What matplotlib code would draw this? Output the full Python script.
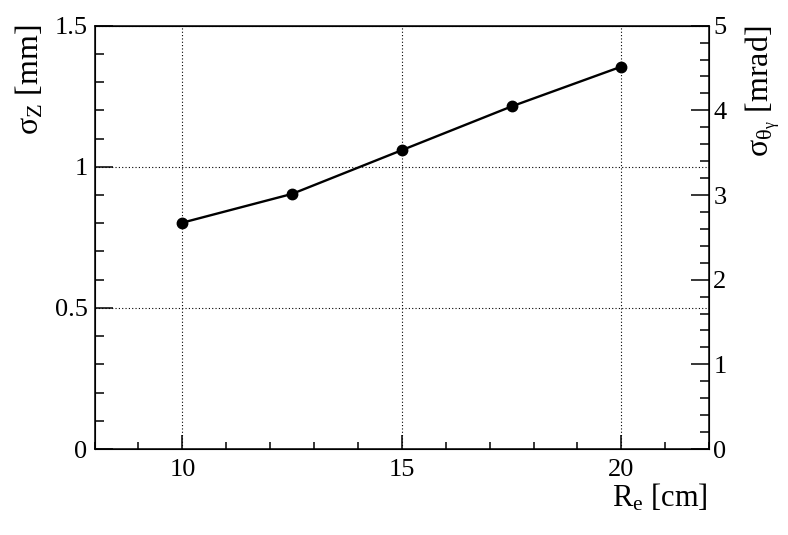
import numpy as np
import matplotlib
matplotlib.use('Agg')
import matplotlib.pyplot as plt
from matplotlib.ticker import MultipleLocator

plt.rcParams['font.family'] = 'Liberation Serif'
plt.rcParams['mathtext.fontset'] = 'custom'
plt.rcParams['mathtext.rm'] = 'Liberation Serif'
plt.rcParams['mathtext.it'] = 'Liberation Serif:italic'

# data
radius = [10, 12.5, 15, 17.5, 20]
sigma_z = [0.802, 0.904, 1.059, 1.214, 1.355]

fig = plt.figure(figsize=(7.88, 5.35), dpi=100)
ax = fig.add_axes([0.120, 0.1607, 0.780, 0.7913])

ax.plot(radius, sigma_z, color='black', lw=1.7, marker='o', ms=7.5, zorder=3)

ax.set_xlim(8, 22)
ax.set_ylim(0, 1.5)
ax.xaxis.set_major_locator(MultipleLocator(5))
ax.xaxis.set_minor_locator(MultipleLocator(1))
ax.yaxis.set_minor_locator(MultipleLocator(0.1))
ax.set_yticks([0, 0.5, 1, 1.5])
ax.set_yticklabels(['0', '0.5', '1', '1.5'])
ax.grid(True, which='major', ls=(0, (1, 2)), color='black', lw=0.8)

ax.tick_params(axis='both', which='both', direction='in', labelsize=19, width=1.1)
ax.tick_params(axis='y', which='major', length=13, pad=5)
ax.tick_params(axis='y', which='minor', length=6.5)
ax.tick_params(axis='x', which='major', length=10, pad=7)
ax.tick_params(axis='x', which='minor', length=4.7)
for s in ax.spines.values():
    s.set_linewidth(1.1)

ax2 = ax.twinx()
ax2.set_ylim(0, 5)
ax2.yaxis.set_major_locator(MultipleLocator(1))
ax2.yaxis.set_minor_locator(MultipleLocator(0.2))
ax2.tick_params(axis='y', which='both', direction='in', labelsize=19, width=1.1, pad=3)
ax2.tick_params(axis='y', which='major', length=13)
ax2.tick_params(axis='y', which='minor', length=6.5)

fig.text(30/788, 1 - 24/535, r'σ$_{\mathrm{Z}}$ [mm]', rotation=90,
         ha='center', va='top', fontsize=23)
fig.text(763/788, 1 - 26/535, r'σ$_{\mathrm{θ}_{\mathrm{γ}}}$ [mrad]', rotation=90,
         ha='center', va='top', fontsize=23)
fig.text(708/788, 1 - 498/535, r'R$_{\mathrm{e}}$ [cm]', ha='right', va='center',
         fontsize=22)

fig.savefig('out.png', dpi=100)
